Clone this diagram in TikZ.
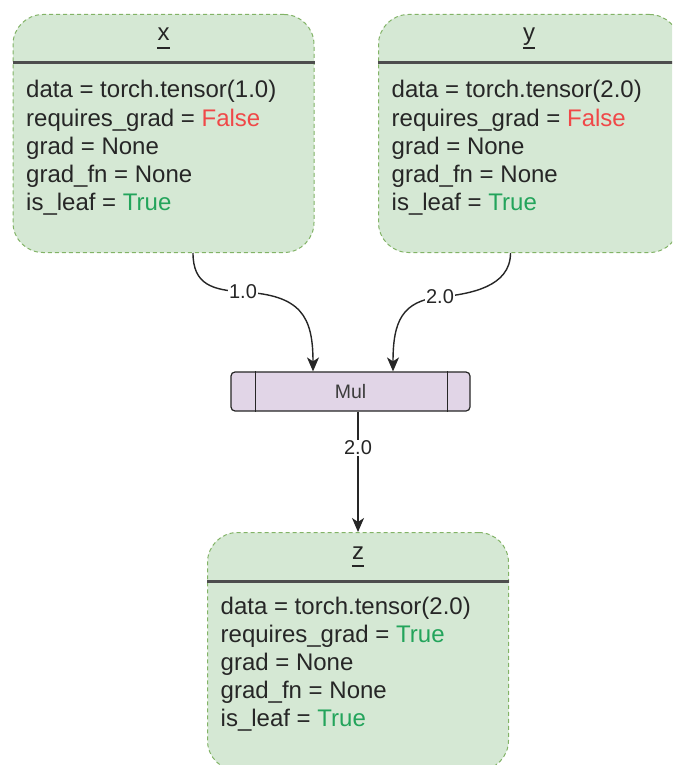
\documentclass[tikz,border=0pt]{standalone}
\usepackage{fontspec}
\setmainfont{Liberation Sans}
\usetikzlibrary{calc,arrows.meta}

\definecolor{boxfill}{HTML}{D5E8D4}
\definecolor{boxline}{HTML}{82B366}
\definecolor{opfill}{HTML}{E1D5E7}
\definecolor{ink}{HTML}{262626}
\definecolor{falsered}{HTML}{F04848}
\definecolor{truegreen}{HTML}{23A45B}
\definecolor{rule}{HTML}{4D4D4D}

\tikzset{
  tbox/.style={draw=boxline, fill=boxfill, dash pattern=on 4pt off 3pt,
    line width=1pt, rounded corners=30pt, minimum width=301pt,
    minimum height=238pt, inner sep=0pt},
  ttitle/.style={font=\fontsize{24}{28}\selectfont, text=ink, inner sep=0pt, anchor=base},
  trow/.style={font=\fontsize{24}{28}\selectfont, text=ink, inner sep=0pt, anchor=base west},
  divider/.style={draw=rule, line width=3pt},
  ulinestyle/.style={draw=ink, line width=1.2pt},
  opbox/.style={draw=ink, fill=opfill, line width=1.2pt, rounded corners=4pt,
    minimum width=239pt, minimum height=39pt, inner sep=0pt,
    font=\fontsize{19.5}{22}\selectfont, text=ink!90},
  edge/.style={draw=ink, line width=1.4pt,
    -{Stealth[length=14pt, width=12pt, inset=4pt]}},
  lbl/.style={fill=white, inner sep=1pt, font=\fontsize{20}{22}\selectfont, text=ink},
}

% A tensor record: #1 name, #2 left x, #3 top y, #4 title, #5 data value,
% #6 requires_grad value, #7 body baseline offset
\newcommand\tensorbox[7]{%
  \node[tbox, anchor=north west] (#1) at (#2,#3) {};
  \node[ttitle] (#1-title) at ($(#1.north)+(0,27)$) {#4};
  \draw[ulinestyle] ([yshift=-7pt]#1-title.base west) -- ([yshift=-7pt]#1-title.base east);
  \draw[divider] ($(#1.north west)+(0,49)$) -- ($(#1.north east)+(0,49)$);
  \node[trow] (#1-r1) at ($(#1.north west)+(13.5,#7)$) {data = torch.tensor(#5)};
  \node[trow] (#1-r2) at ($(#1-r1.base west)+(0,28.2)$) {requires\_grad = #6};
  \node[trow] (#1-r3) at ($(#1-r2.base west)+(0,28.2)$) {grad = None};
  \node[trow] (#1-r4) at ($(#1-r3.base west)+(0,28.2)$) {grad\_fn = None};
  \node[trow] (#1-r5) at ($(#1-r4.base west)+(0,28.2)$) {is\_leaf = \textcolor{truegreen}{True}};
}

\begin{document}
\begin{tikzpicture}[x=1pt, y=-1pt]
  \path[use as bounding box, clip] (0,0) rectangle (672,765);
  \fill[white] (0,0) rectangle (672,765);

  % input tensors and result tensor
  \tensorbox{xt}{12.5}{14}{x}{1.0}{\textcolor{falsered}{False}}{84}
  \tensorbox{yt}{378}{14}{y}{2.0}{\textcolor{falsered}{False}}{84}
  \tensorbox{zt}{207}{532}{z}{2.0}{\textcolor{truegreen}{True}}{82}

  % multiplication operator
  \node[opbox] (mul) at (350.5,391.5) {Mul};
  \draw[draw=ink, line width=1.2pt] ([xshift=25pt]mul.north west) -- ([xshift=25pt]mul.south west);
  \draw[draw=ink, line width=1.2pt] ([xshift=-23pt]mul.north east) -- ([xshift=-23pt]mul.south east);

  % edge label positions
  \coordinate (l1) at (243,292);
  \coordinate (l2) at (440,297);

  % x -> Mul
  \draw[edge] ([xshift=29.5pt]xt.south) .. controls +(0,32) and +(-30,-2) .. (l1)
    node[lbl] {1.0}
    .. controls +(58,3) and +(0,-55) .. ([xshift=-37.5pt]mul.north);
  % y -> Mul
  \draw[edge] ([xshift=-18.5pt]yt.south) .. controls +(0,34) and +(30,-3) .. (l2)
    node[lbl] {2.0}
    .. controls +(-38,4) and +(0,-50) .. ([xshift=42.5pt]mul.north);
  % Mul -> z
  \draw[edge] (mul.south -| zt.north) -- node[lbl, pos=0.3] {2.0} (zt.north);
\end{tikzpicture}
\end{document}
